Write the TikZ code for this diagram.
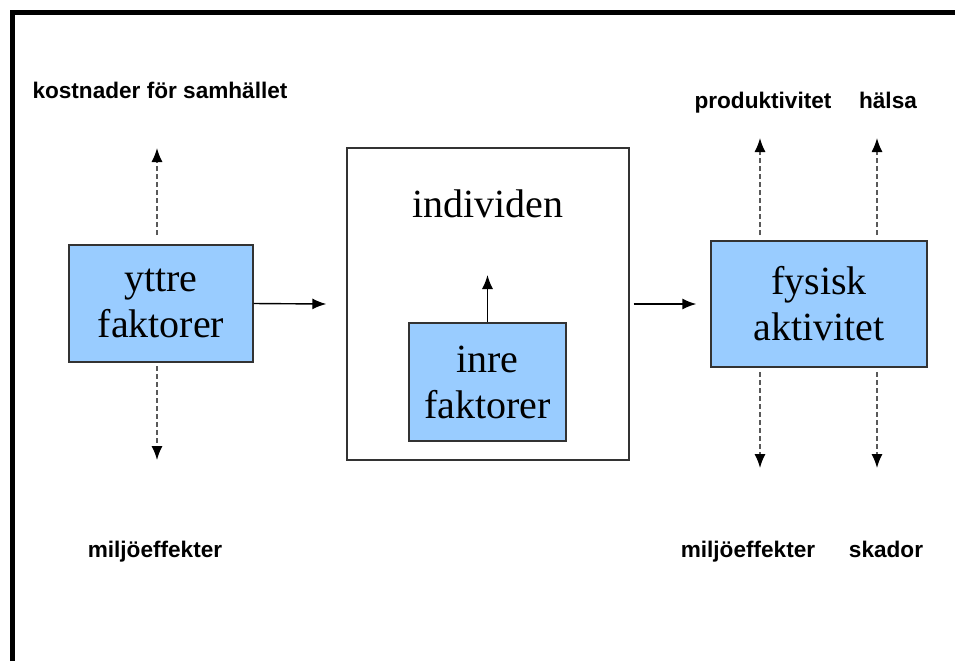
\documentclass[tikz,border=0pt]{standalone}
\usepackage{fontspec}
\setmainfont{Liberation Serif}
\newfontfamily\labelfont{Liberation Sans}
\usetikzlibrary{arrows, arrows.meta}
\usetikzlibrary{shapes.geometric, positioning, calc}
\usepackage{xcolor}
\definecolor{boxblue}{HTML}{99CCFF}
\definecolor{boxline}{HTML}{333333}

\tikzset{
  bluebox/.style={rectangle, draw=boxline, line width=0.7pt, fill=boxblue, align=center,
    font=\fontsize{20}{23}\selectfont, inner sep=0pt},
  outcome/.style={font=\labelfont\bfseries\fontsize{11.3}{13}\selectfont, inner sep=0pt, anchor=base},
  flow/.style={-{Latex[length=7pt,width=5.5pt]}, line width=0.7pt},
  effect/.style={-{Latex[length=7pt,width=5.5pt,black]}, line width=0.7pt, draw=gray!70!black,
    dash pattern=on 2.5pt off 1.5pt},
}

\begin{document}
\begin{tikzpicture}[x=0.5pt, y=-0.5pt]
        \useasboundingbox (0, 0) rectangle (955, 661);
        \draw[line width=2.5pt] (12, 661) -- (12, 12) -- (955, 12);

        \node[bluebox, minimum width=92pt, minimum height=58.5pt] (yttre) at (161, 303.5) {yttre\\faktorer};
        \node[draw=boxline, line width=0.7pt, fill=white, minimum width=141pt, minimum height=156pt] (indiv) at (488, 304) {};
        \node[font=\fontsize{20}{23}\selectfont] (indivtext) at (488, 204) {individen};
        \node[bluebox, minimum width=78.5pt, minimum height=59pt] (inre) at (487.5, 382) {inre\\faktorer};
        \node[bluebox, minimum width=108pt, minimum height=63pt] (fysisk) at (819, 304) {fysisk\\aktivitet};

        \coordinate (inretop) at (487.5, 275);
        \draw[flow] (inre.north) -- (inretop);
        \draw[flow] (yttre.east) -- ($(indiv.west) + (-20, 0)$);
        \draw[flow] ($(indiv.east) + (4, 0)$) -- ($(fysisk.west) + (-14, 0)$);

        \node[outcome] (kostnad) at (160, 98) {kostnader för samhället};
        \node[outcome] (miljoA) at (155, 557) {miljöeffekter};
        \node[outcome] (produkt) at (763, 108) {produktivitet};
        \node[outcome] (halsa) at (888, 108) {hälsa};
        \node[outcome] (miljoB) at (748, 557) {miljöeffekter};
        \node[outcome] (skador) at (886, 557) {skador};

        % streckade effekter
        \coordinate (yup0) at (157, 235);   \coordinate (yup1) at (157, 148);
        \coordinate (ydn0) at (157, 366);   \coordinate (ydn1) at (157, 460);
        \coordinate (pup0) at (760, 235);   \coordinate (pup1) at (760, 138);
        \coordinate (hup0) at (877, 235);   \coordinate (hup1) at (877, 138);
        \coordinate (mdn0) at (760, 372);   \coordinate (mdn1) at (760, 468);
        \coordinate (sdn0) at (877, 372);   \coordinate (sdn1) at (877, 468);
        \draw[effect] (yup0) -- (yup1);
        \draw[effect] (ydn0) -- (ydn1);
        \draw[effect] (pup0) -- (pup1);
        \draw[effect] (hup0) -- (hup1);
        \draw[effect] (mdn0) -- (mdn1);
        \draw[effect] (sdn0) -- (sdn1);
      \end{tikzpicture}
\end{document}
